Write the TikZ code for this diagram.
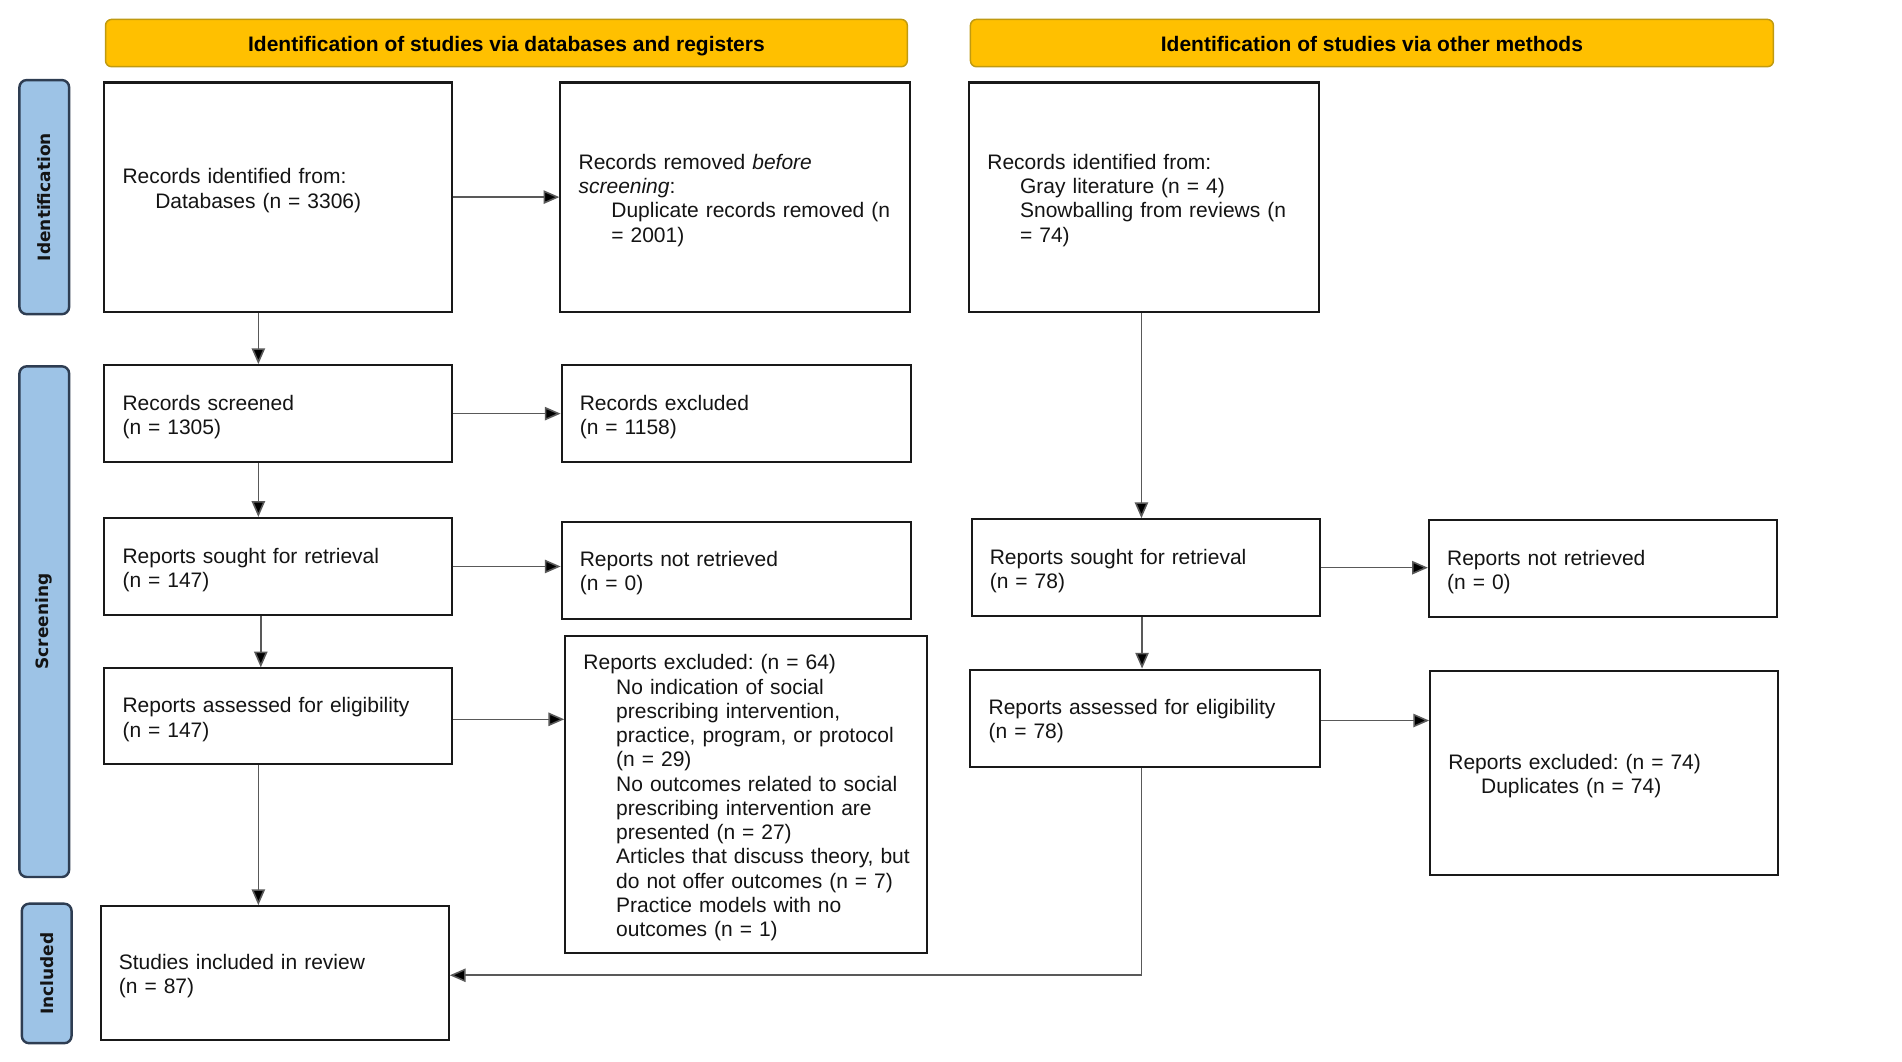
\documentclass[tikz,border=0pt]{standalone}
\usepackage{fontspec}
\setmainfont{Liberation Sans}
\newfontfamily\sidefont{DejaVu Sans}
\usetikzlibrary{arrows.meta,calc}
\definecolor{hdrfill}{HTML}{FFC000}
\definecolor{hdrborder}{HTML}{C09A10}
\definecolor{sidefill}{HTML}{9DC3E6}
\definecolor{sideborder}{HTML}{2E3D52}
\definecolor{txt}{HTML}{141414}
\newcommand{\myind}{\hspace*{27pt}}
\frenchspacing
\begin{document}
\begin{tikzpicture}[x=1pt,y=-1pt,
  pbox/.style={draw=black!90, line width=1.7pt, fill=white, inner xsep=15pt, inner ysep=0pt,
    align=left, anchor=center, font=\fontsize{17.3}{20}\selectfont\frenchspacing, text=txt,
    execute at begin node={\rule{0pt}{18pt}}},
  hdr/.style={draw=hdrborder, line width=1.2pt, fill=hdrfill, rounded corners=5pt,
    font=\fontsize{17.3}{20}\selectfont\bfseries, text=black, minimum height=39pt,
    text height=18pt, text depth=3.6pt, inner ysep=0pt},
  side/.style={draw=sideborder, line width=2pt, fill=sidefill, rounded corners=6pt, rotate=90,
    font=\sidefont\fontsize{14}{16}\selectfont\bfseries, text=txt, minimum height=41pt},
  arr/.style={draw=black!65, line width=1.3pt, -{Triangle[length=13pt,width=11pt,fill=black]}}
]
\useasboundingbox[fill=white] (0,0) rectangle (1568,875);

% headers
\node[hdr, minimum width=661pt] (h1) at (417.5,35.5) {Identification of studies via databases and registers};
\node[hdr, minimum width=662pt] (h2) at (1131,35.5) {Identification of studies via other methods};

% side bars
\node[side, minimum width=193pt] (s1) at (36.5,162.5) {Identification};
\node[side, minimum width=421pt] (s2) at (36.5,512.5) {Screening};
\node[side, minimum width=115pt] (s3) at (38.5,802.5) {Included};

% boxes
\node[pbox, minimum width=287pt, text width=257pt, minimum height=189pt] (A) at (229.5,162.5)
  {Records identified from:\\ \myind Databases (n = 3306)\\ \mbox{}};
\node[pbox, minimum width=288pt, text width=258pt, minimum height=189pt] (B) at (606,162.5)
  {Records removed \textit{before}\\ \textit{screening}:\\ \myind\mbox{Duplicate records removed (n}\\ \myind = 2001)};
\node[pbox, minimum width=288pt, text width=258pt, minimum height=189pt] (C) at (943,162.5)
  {Records identified from:\\ \myind Gray literature (n = 4)\\ \myind\mbox{Snowballing from reviews (n}\\ \myind = 74)};
\node[pbox, minimum width=287pt, text width=257pt, minimum height=80pt] (D) at (229.5,341)
  {Records screened\\ (n = 1305)};
\node[pbox, minimum width=288pt, text width=258pt, minimum height=80pt] (E) at (607,341)
  {Records excluded\\ (n = 1158)};
\node[pbox, minimum width=287pt, text width=257pt, minimum height=80pt] (F) at (229.5,467)
  {Reports sought for retrieval\\ (n = 147)};
\node[pbox, minimum width=288pt, text width=258pt, minimum height=80pt] (G) at (607,470)
  {Reports not retrieved\\ (n = 0)};
\node[pbox, minimum width=287pt, text width=257pt, minimum height=79pt] (H) at (229.5,590.5)
  {Reports assessed for eligibility\\ (n = 147)};
\node[pbox, minimum width=298pt, text width=268pt, minimum height=262pt] (I) at (615,655)
  {Reports excluded: (n = 64)\\
   \myind\mbox{No indication of social}\\
   \myind\mbox{prescribing intervention,}\\
   \myind\mbox{practice, program, or protocol}\\
   \myind\mbox{(n = 29)}\\
   \myind\mbox{No outcomes related to social}\\
   \myind\mbox{prescribing intervention are}\\
   \myind\mbox{presented (n = 27)}\\
   \myind\mbox{Articles that discuss theory, but}\\
   \myind\mbox{do not offer outcomes (n = 7)}\\
   \myind\mbox{Practice models with no}\\
   \myind\mbox{outcomes (n = 1)}};
\node[pbox, minimum width=287pt, text width=257pt, minimum height=110pt] (J) at (226.5,802)
  {Studies included in review\\ (n = 87)};
\node[pbox, minimum width=287pt, text width=257pt, minimum height=80pt] (K) at (944.5,468)
  {Reports sought for retrieval\\ (n = 78)};
\node[pbox, minimum width=287pt, text width=257pt, minimum height=80pt] (L) at (1321.5,469)
  {Reports not retrieved\\ (n = 0)};
\node[pbox, minimum width=288pt, text width=258pt, minimum height=80pt] (M) at (944,592)
  {Reports assessed for eligibility\\ (n = 78)};
\node[pbox, minimum width=287pt, text width=257pt, minimum height=168pt] (N) at (1322.5,637)
  {Reports excluded: (n = 74)\\ \myind Duplicates (n = 74)};

% connectors
\draw[arr] (A.east) -- (B.west);
\draw[arr] ([xshift=-16.5pt]A.south) -- ([xshift=-16.5pt]A.south |- D.north);
\draw[arr] (D.east) -- (E.west);
\draw[arr] ([xshift=-16.5pt]D.south) -- ([xshift=-16.5pt]D.south |- F.north);
\draw[arr] (F.east) -- (F.east -| G.west);
\draw[arr] ([xshift=-14.5pt]F.south) -- ([xshift=-14.5pt]F.south |- H.north);
\draw[arr] ([yshift=-2.5pt]H.east) -- ([yshift=-2.5pt]H.east -| I.west);
\draw[arr] ([xshift=-16.5pt]H.south) -- ([xshift=-16.5pt]H.south |- J.north);
\draw[arr] ([xshift=-2pt]C.south) -- ([xshift=-2pt]C.south |- K.north);
\draw[arr] (K.east) -- (K.east -| L.west);
\draw[arr] ([xshift=-3pt]K.south) -- ([xshift=-3pt]K.south |- M.north);
\draw[arr] ([yshift=-2pt]M.east) -- ([yshift=-2pt]M.east -| N.west);
\draw[arr] ([xshift=-3pt]M.south) |- ([yshift=-2pt]J.east);
\end{tikzpicture}
\end{document}
